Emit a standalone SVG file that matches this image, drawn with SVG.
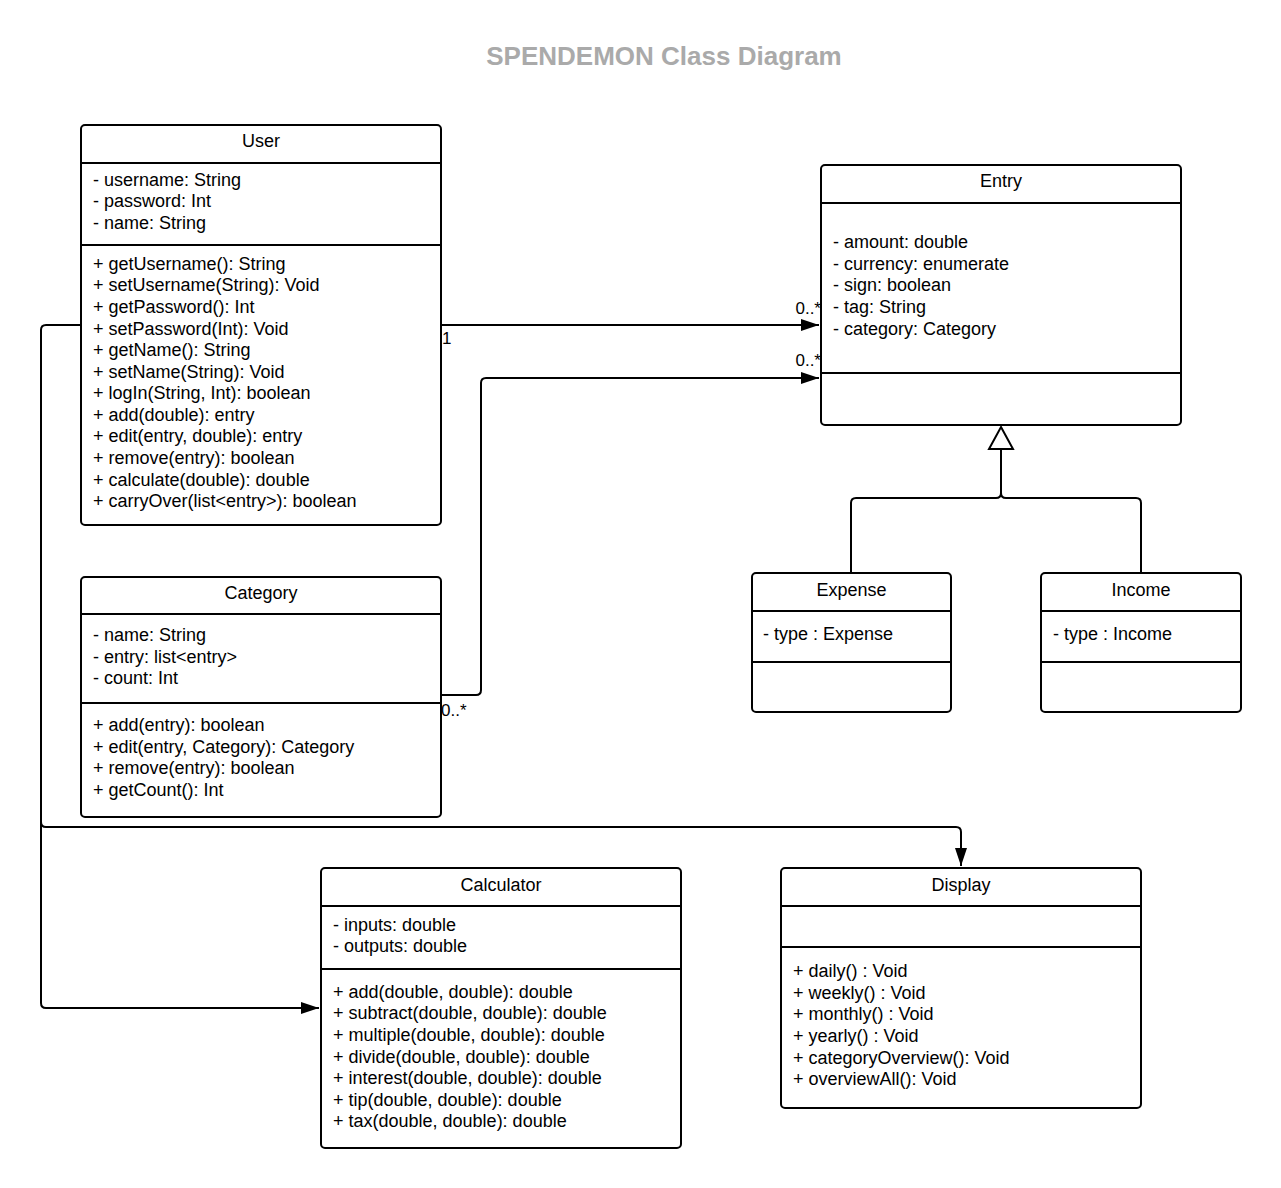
<svg xmlns="http://www.w3.org/2000/svg" width="1281" height="1188" viewBox="0 0 1281 1188">
<defs>
<style>
.box{fill:#fff;stroke:#000;stroke-width:2}
.div{stroke:#000;stroke-width:2}
text{font-family:"Liberation Sans",Arial,sans-serif;font-size:18px;fill:#000}
.t{text-anchor:middle}
.title{font-size:26px;font-weight:bold;fill:#aaaaaa;text-anchor:middle}
.c{fill:none;stroke:#000;stroke-width:2}
.lbl{font-size:17px}
</style>
<marker id="arr" markerWidth="18" markerHeight="12" refX="18" refY="6" orient="auto" markerUnits="userSpaceOnUse">
<path d="M0,0 L18,6 L0,12 Z" fill="#000"/>
</marker>
</defs>
<rect width="1281" height="1188" fill="#fff"/>
<text class="title" x="664" y="65">SPENDEMON Class Diagram</text>

<g id="connectors">
<path class="c" d="M441,325 L819,325" marker-end="url(#arr)"/>
<path class="c" d="M441,695 L476,695 Q481,695 481,690 L481,383 Q481,378 486,378 L819,378" marker-end="url(#arr)"/>
<path class="c" d="M81,325 L46,325 Q41,325 41,330 L41,822 Q41,827 46,827 L956,827 Q961,827 961,832 L961,866" marker-end="url(#arr)"/>
<path class="c" d="M41,822 L41,1003 Q41,1008 46,1008 L319,1008" marker-end="url(#arr)"/>
<path class="c" d="M851,573 L851,503 Q851,498 856,498 L996,498 Q1001,498 1001,493 L1001,449 M1001,493 Q1001,498 1006,498 L1136,498 Q1141,498 1141,503 L1141,573"/>
<path d="M1001,427 L1013,449 L989,449 Z" fill="#fff" stroke="#000" stroke-width="2"/>
<text class="lbl" x="442" y="344">1</text>
<text class="lbl" x="821" y="314" text-anchor="end">0..*</text>
<text class="lbl" x="821" y="366" text-anchor="end">0..*</text>
<text class="lbl" x="441" y="716">0..*</text>
</g>

<g id="user">
<rect class="box" x="81" y="125" width="360" height="400" rx="4"/>
<line class="div" x1="81" y1="163" x2="441" y2="163"/>
<line class="div" x1="81" y1="245" x2="441" y2="245"/>
<text class="t" x="261" y="147">User</text>
<text x="93" y="186">- username: String</text>
<text x="93" y="207">- password: Int</text>
<text x="93" y="229">- name: String</text>
<text x="93" y="270">+ getUsername(): String</text>
<text x="93" y="291">+ setUsername(String): Void</text>
<text x="93" y="313">+ getPassword(): Int</text>
<text x="93" y="335">+ setPassword(Int): Void</text>
<text x="93" y="356">+ getName(): String</text>
<text x="93" y="378">+ setName(String): Void</text>
<text x="93" y="399">+ logIn(String, Int): boolean</text>
<text x="93" y="421">+ add(double): entry</text>
<text x="93" y="442">+ edit(entry, double): entry</text>
<text x="93" y="464">+ remove(entry): boolean</text>
<text x="93" y="486">+ calculate(double): double</text>
<text x="93" y="507">+ carryOver(list&lt;entry&gt;): boolean</text>
</g>

<g id="entry">
<rect class="box" x="821" y="165" width="360" height="260" rx="4"/>
<line class="div" x1="821" y1="203" x2="1181" y2="203"/>
<line class="div" x1="821" y1="373" x2="1181" y2="373"/>
<text class="t" x="1001" y="187">Entry</text>
<text x="833" y="248">- amount: double</text>
<text x="833" y="270">- currency: enumerate</text>
<text x="833" y="291">- sign: boolean</text>
<text x="833" y="313">- tag: String</text>
<text x="833" y="335">- category: Category</text>
</g>

<g id="expense">
<rect class="box" x="752" y="573" width="199" height="139" rx="4"/>
<line class="div" x1="752" y1="611" x2="951" y2="611"/>
<line class="div" x1="752" y1="662" x2="951" y2="662"/>
<text class="t" x="851.5" y="596">Expense</text>
<text x="763" y="640">- type : Expense</text>
</g>

<g id="income">
<rect class="box" x="1041" y="573" width="200" height="139" rx="4"/>
<line class="div" x1="1041" y1="611" x2="1241" y2="611"/>
<line class="div" x1="1041" y1="662" x2="1241" y2="662"/>
<text class="t" x="1141" y="596">Income</text>
<text x="1053" y="640">- type : Income</text>
</g>

<g id="category">
<rect class="box" x="81" y="577" width="360" height="240" rx="4"/>
<line class="div" x1="81" y1="614" x2="441" y2="614"/>
<line class="div" x1="81" y1="703" x2="441" y2="703"/>
<text class="t" x="261" y="599">Category</text>
<text x="93" y="641">- name: String</text>
<text x="93" y="663">- entry: list&lt;entry&gt;</text>
<text x="93" y="684">- count: Int</text>
<text x="93" y="731">+ add(entry): boolean</text>
<text x="93" y="753">+ edit(entry, Category): Category</text>
<text x="93" y="774">+ remove(entry): boolean</text>
<text x="93" y="796">+ getCount(): Int</text>
</g>

<g id="calculator">
<rect class="box" x="321" y="868" width="360" height="280" rx="4"/>
<line class="div" x1="321" y1="906" x2="681" y2="906"/>
<line class="div" x1="321" y1="969" x2="681" y2="969"/>
<text class="t" x="501" y="891">Calculator</text>
<text x="333" y="931">- inputs: double</text>
<text x="333" y="952">- outputs: double</text>
<text x="333" y="998">+ add(double, double): double</text>
<text x="333" y="1019">+ subtract(double, double): double</text>
<text x="333" y="1041">+ multiple(double, double): double</text>
<text x="333" y="1063">+ divide(double, double): double</text>
<text x="333" y="1084">+ interest(double, double): double</text>
<text x="333" y="1106">+ tip(double, double): double</text>
<text x="333" y="1127">+ tax(double, double): double</text>
</g>

<g id="display">
<rect class="box" x="781" y="868" width="360" height="240" rx="4"/>
<line class="div" x1="781" y1="906" x2="1141" y2="906"/>
<line class="div" x1="781" y1="947" x2="1141" y2="947"/>
<text class="t" x="961" y="891">Display</text>
<text x="793" y="977">+ daily() : Void</text>
<text x="793" y="999">+ weekly() : Void</text>
<text x="793" y="1020">+ monthly() : Void</text>
<text x="793" y="1042">+ yearly() : Void</text>
<text x="793" y="1064">+ categoryOverview(): Void</text>
<text x="793" y="1085">+ overviewAll(): Void</text>
</g>
</svg>
